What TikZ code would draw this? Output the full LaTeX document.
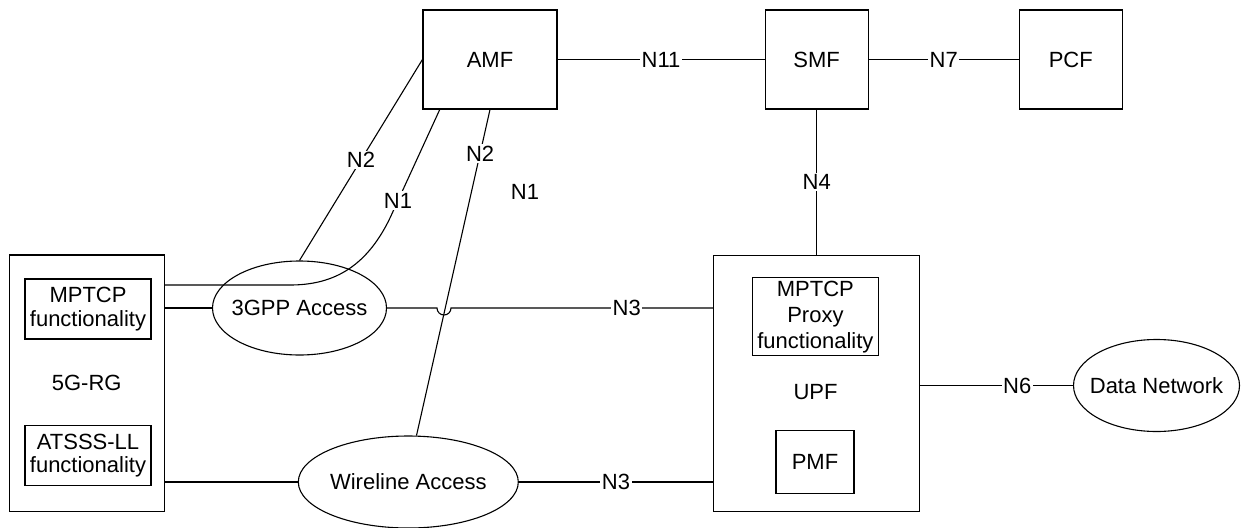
\documentclass[tikz,border=0pt]{standalone}
\usepackage{fontspec}
\setmainfont{Liberation Sans}
\usetikzlibrary{shapes.geometric}
\begin{document}
\begin{tikzpicture}[x=1pt,y=-1pt,
  font=\fontsize{22}{23.5}\selectfont,
  line width=1.1pt,
  box/.style={draw,rectangle,inner sep=0pt,align=center},
  ell/.style={draw,ellipse,inner sep=0pt},
  lbl/.style={fill=white,inner sep=1.5pt}]
\useasboundingbox (0,0) rectangle (1241,527);
% core boxes
\node[box,minimum width=134pt,minimum height=99pt] (amf) at (490,59.5) {AMF};
\node[box,minimum width=103pt,minimum height=99pt] (smf) at (816.7,59.5) {SMF};
\node[box,minimum width=103pt,minimum height=99pt] (pcf) at (1070.8,59.5) {PCF};
% 5G-RG
\node[box,minimum width=154.7pt,minimum height=256.7pt] (rg) at (86.7,383.3) {5G-RG};
\node[box,minimum width=126pt,minimum height=60pt] (mptcp) at (88,309) {MPTCP\\functionality};
\node[box,minimum width=126pt,minimum height=60pt] (atsss) at (88,455.7) {ATSSS-LL\\functionality};
% UPF
\node[box,minimum width=205.5pt,minimum height=255.5pt] (upf) at (816.5,383.3) {};
\node (upflabel) at (815.5,391.7) {UPF};
\node[box,minimum width=126pt,minimum height=78pt,font=\fontsize{22}{26}\selectfont] (proxy) at (815.4,316.9) {MPTCP\\Proxy\\functionality};
\node[box,minimum width=78pt,minimum height=63pt] (pmf) at (815,461.7) {PMF};
% ellipses
\node[ell,minimum width=174pt,minimum height=94pt,label={center:3GPP Access}] (g3) at (299.5,308) {};
\node[ell,minimum width=220pt,minimum height=92pt,label={center:Wireline Access}] (wire) at (408.3,482) {};
\node[ell,minimum width=166pt,minimum height=92pt,label={center:Data Network}] (dn) at (1156.5,385.5) {};
% free label
\node (n1free) at (525,192) {N1};
% helper coordinates
\coordinate (rgtop) at (164,285);
\coordinate (n1bend) at (290,285);
\coordinate (n1knee) at (390,218);
\coordinate (n1amf) at (440,109);
% connectors
\draw (amf.east) -- node[lbl]{N11} (smf.west);
\draw (smf.east) -- node[lbl]{N7} (pcf.west);
\draw (smf.south) -- node[lbl]{N4} (upf.north -| smf.south);
\draw (rgtop) -- (n1bend) .. controls (330,285) and (365,270) .. (n1knee) -- node[lbl,pos=0.16]{N1} (n1amf);
\draw (g3.north) -- node[lbl]{N2} (amf.west);
\draw (amf.south) -- node[lbl,pos=0.135]{N2} (wire.80);
\draw (rg.east |- g3.west) -- (g3.west);
\draw (g3.east) -- (437,308) arc[start angle=180,end angle=0,radius=7] -- node[lbl,pos=0.67]{N3} (upf.west |- g3.east);
\draw (rg.east |- wire.west) -- (wire.west);
\draw (wire.east) -- node[lbl]{N3} (upf.west |- wire.east);
\draw (upf.east |- dn.west) -- node[lbl,pos=0.636]{N6} (dn.west);
\end{tikzpicture}
\end{document}
